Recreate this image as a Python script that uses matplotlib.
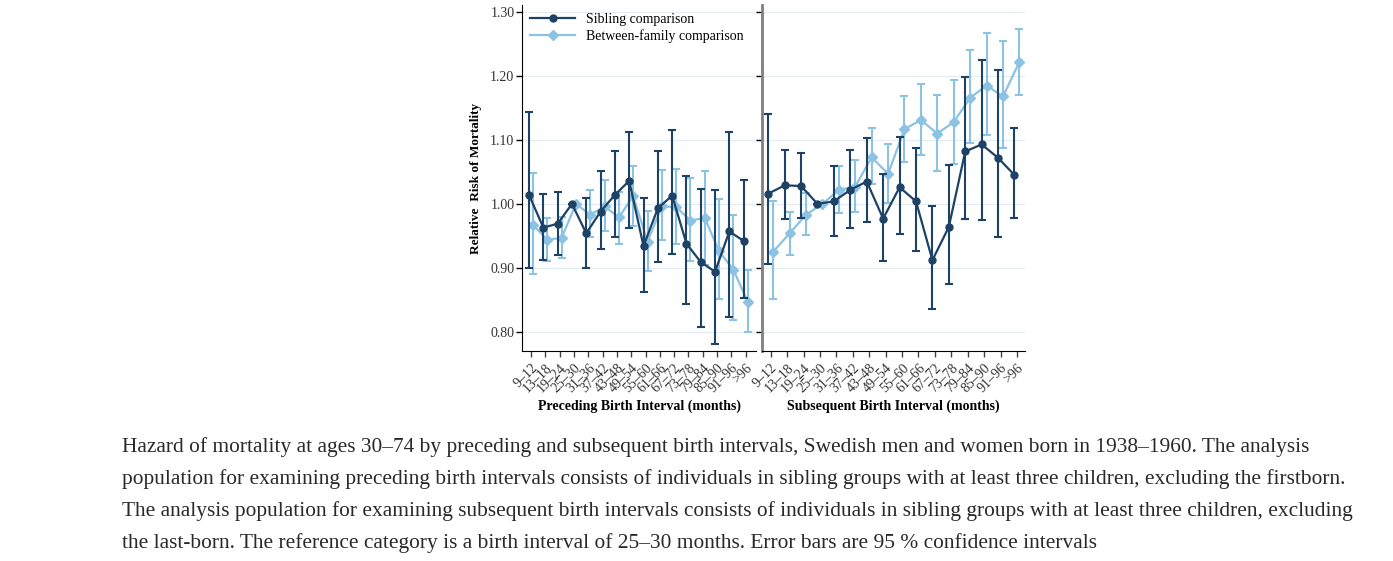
import numpy as np
import matplotlib.pyplot as plt
from matplotlib.lines import Line2D

# Dados
labels = ["9–12", "13–18", "19–24", "25–30", "31–36", "37–42", "43–48", "49–54",
          "55–60", "61–66", "67–72", "73–78", "79–84", "85–90", "91–96", ">96"]

# Intervalo anterior (preceding)
pre_sib = [1.014, 0.963, 0.969, 1.000, 0.954, 0.988, 1.014, 1.036,
           0.934, 0.993, 1.013, 0.938, 0.909, 0.894, 0.957, 0.942]
pre_sib_lo = [0.899, 0.913, 0.920, 1.000, 0.900, 0.930, 0.949, 0.963,
              0.862, 0.909, 0.921, 0.843, 0.807, 0.781, 0.823, 0.853]
pre_sib_hi = [1.144, 1.016, 1.018, 1.000, 1.009, 1.051, 1.083, 1.113,
              1.009, 1.082, 1.115, 1.044, 1.023, 1.022, 1.113, 1.038]
pre_btw = [0.967, 0.944, 0.947, 1.000, 0.983, 0.996, 0.979, 1.012,
           0.941, 0.996, 0.995, 0.974, 0.978, 0.926, 0.897, 0.847]
pre_btw_lo = [0.891, 0.911, 0.915, 1.000, 0.948, 0.957, 0.937, 0.966,
              0.895, 0.944, 0.937, 0.911, 0.904, 0.852, 0.818, 0.799]
pre_btw_hi = [1.049, 0.978, 0.980, 1.000, 1.021, 1.037, 1.019, 1.060,
              0.989, 1.053, 1.054, 1.041, 1.051, 1.008, 0.983, 0.896]

# Intervalo seguinte (subsequent)
sub_sib = [1.016, 1.029, 1.028, 1.000, 1.004, 1.022, 1.035, 0.977,
           1.026, 1.004, 0.912, 0.964, 1.082, 1.093, 1.072, 1.045]
sub_sib_lo = [0.906, 0.976, 0.978, 1.000, 0.950, 0.963, 0.971, 0.911,
              0.953, 0.926, 0.835, 0.875, 0.977, 0.975, 0.948, 0.978]
sub_sib_hi = [1.140, 1.084, 1.079, 1.000, 1.060, 1.085, 1.103, 1.046,
              1.104, 1.087, 0.996, 1.061, 1.198, 1.225, 1.210, 1.118]
sub_btw = [0.925, 0.954, 0.983, 1.000, 1.022, 1.027, 1.073, 1.047,
           1.117, 1.131, 1.110, 1.128, 1.166, 1.185, 1.168, 1.222]
sub_btw_lo = [0.851, 0.920, 0.952, 1.000, 0.985, 0.987, 1.031, 1.002,
              1.066, 1.076, 1.052, 1.063, 1.096, 1.107, 1.088, 1.171]
sub_btw_hi = [1.004, 0.987, 1.017, 1.000, 1.060, 1.068, 1.118, 1.094,
              1.168, 1.188, 1.171, 1.194, 1.241, 1.267, 1.254, 1.273]

yticks = [0.80, 0.90, 1.00, 1.10, 1.20, 1.30]

caption = ("Hazard of mortality at ages 30–74 by preceding and subsequent birth intervals, Swedish men and women born in 1938–1960. The analysis\n"
           "population for examining preceding birth intervals consists of individuals in sibling groups with at least three children, excluding the firstborn.\n"
           "The analysis population for examining subsequent birth intervals consists of individuals in sibling groups with at least three children, excluding\n"
           "the last-born. The reference category is a birth interval of 25–30 months. Error bars are 95 % confidence intervals")

dark = '#1d4266'
light = '#8cc2e2'
serif = 'Liberation Serif'

W, H = 1393, 561
fig = plt.figure(figsize=(W/100, H/100), dpi=100)
ax1 = fig.add_axes([522/W, (H-351)/H, (756-522)/W, 346/H])
ax2 = fig.add_axes([762/W, (H-351)/H, (1025-762)/W, 346/H])

x = np.arange(len(labels))

def painel(ax, sib, slo, shi, btw, blo, bhi, off):
    s = np.array(sib); b = np.array(btw)
    ax.errorbar(x - off, s, yerr=[s - np.array(slo), np.array(shi) - s],
                color=dark, ecolor=dark, marker='o', markersize=5, linewidth=1.6,
                elinewidth=1.5, capsize=3, capthick=1.5, zorder=3)
    ax.errorbar(x + off, b, yerr=[b - np.array(blo), np.array(bhi) - b],
                color=light, ecolor=light, marker='D', markersize=5, linewidth=1.6,
                elinewidth=1.5, capsize=3, capthick=1.5, zorder=2)
    ax.set_ylim(0.770, 1.311)
    ax.set_yticks(yticks)
    ax.grid(axis='y', color='#e3edf1', linewidth=0.9)
    ax.set_axisbelow(True)
    ax.set_xticks(x)
    ax.set_xticklabels(labels, rotation=45, ha='right', rotation_mode='anchor',
                       fontsize=10, family=serif, color='#333333')
    ax.tick_params(axis='both', direction='out', length=4, width=1)
    ax.tick_params(axis='x', colors='#444444', labelcolor='#333333')
    ax.tick_params(axis='y', pad=1.5)
    ax.spines['top'].set_visible(False)
    ax.spines['right'].set_visible(False)

painel(ax1, pre_sib, pre_sib_lo, pre_sib_hi, pre_btw, pre_btw_lo, pre_btw_hi, 0.14)
painel(ax2, sub_sib, sub_sib_lo, sub_sib_hi, sub_btw, sub_btw_lo, sub_btw_hi, 0.15)

ax1.set_xlim(-0.63, 15.72)
ax2.set_xlim(-0.53, 15.49)

ax1.set_yticklabels(['%.2f' % v for v in yticks], fontsize=10, family=serif, color='#333333')
ax2.set_yticklabels([])
ax2.spines['left'].set_color('#7f7f7f')
ax2.spines['left'].set_linewidth(2)

ax1.set_ylabel('Relative  Risk of Mortality', fontsize=9.5, fontweight='bold', family=serif, labelpad=6)
ax1.set_xlabel('Preceding Birth Interval (months)', fontsize=10, fontweight='bold', family=serif, labelpad=3)
ax2.set_xlabel('Subsequent Birth Interval (months)', fontsize=10, fontweight='bold', family=serif, labelpad=3)

handles = [Line2D([], [], color=dark, marker='o', markersize=5, linewidth=1.6),
           Line2D([], [], color=light, marker='D', markersize=5, linewidth=1.6)]
ax1.legend(handles, ['Sibling comparison', 'Between-family comparison'], loc='upper left',
           frameon=False, prop={'family': serif, 'size': 10}, handlelength=3.2,
           borderaxespad=0.2, labelspacing=0.2)

fig.text(122/W, 1 - 437/H, caption, fontsize=15.4, family=serif, color='#292929',
         va='top', ha='left', linespacing=1.82)

fig.savefig('out.png', dpi=100)
